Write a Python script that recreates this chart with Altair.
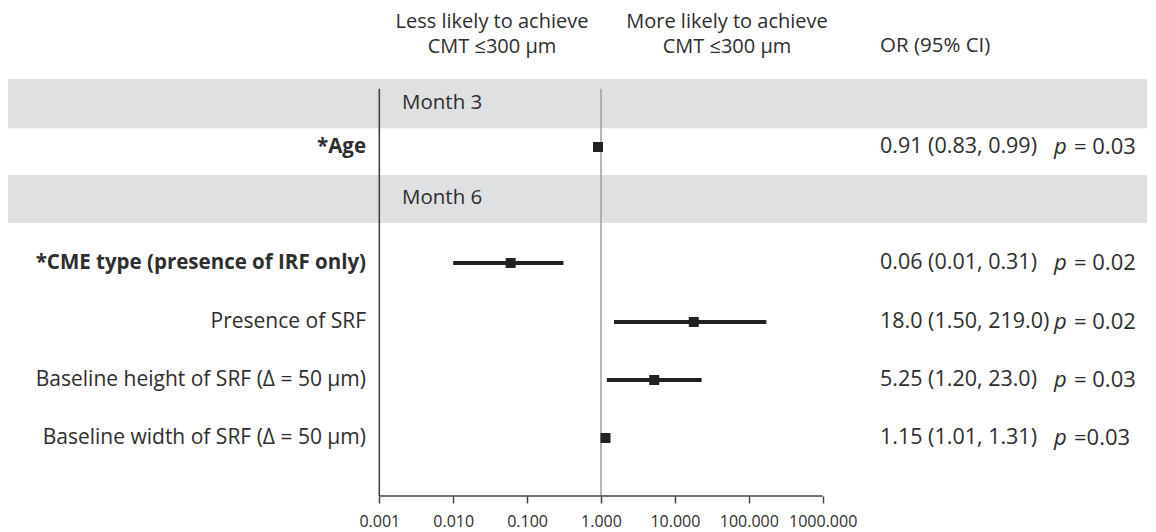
import math
import altair as alt
import pandas as pd

# ---------------- data ----------------
labels = [
    "*Age",
    "*CME type (presence of IRF only)",
    "Presence of SRF",
    "Baseline height of SRF (\u0394 = 50 \u03bcm)",
    "Baseline width of SRF (\u0394 = 50 \u03bcm)",
]
odds = [0.91, 0.06, 18.0, 5.25, 1.15]
ci_low = [0.83, 0.01, 1.50, 1.20, 1.01]
ci_high_drawn = [0.99, 0.31, 173.0, 23.0, 1.31]   # as drawn in the picture
ci_text = [
    "0.91 (0.83, 0.99)",
    "0.06 (0.01, 0.31)",
    "18.0 (1.50, 219.0)",
    "5.25 (1.20, 23.0)",
    "1.15 (1.01, 1.31)",
]
p_text = ["= 0.03", "= 0.02", "= 0.02", "= 0.03", "=0.03"]
groups = ["Month 3", "Month 6"]
tick_values = [0.001, 0.01, 0.1, 1, 10, 100, 1000]

# ---------------- layout (row slots in plot units) ----------------
row_slot = [0.974, 2.977, 3.995, 4.997, 5.998]
group_slot = [0.214, 1.863]
band_top = [-0.2, 1.457]
band_bottom = [0.65, 2.286]
Y_MIN, Y_MAX = -0.2, 7.0
LINE_TOP = -0.03

W, H = 1139, 417
DEC = 73.9             # px per decade
X0 = 371.3             # px position of 0.001
lmin = -3 - X0 / DEC
lmax = lmin + W / DEC

FONT = "Open Sans"
TXT = "#2e2e2e"
FS = 20.5

rows = pd.DataFrame({
    "label": labels, "or": odds, "lo": ci_low, "hi": ci_high_drawn,
    "ci": ci_text, "p": p_text, "row": row_slot,
})
grp = pd.DataFrame({"group": groups, "row": group_slot,
                    "top": band_top, "bottom": band_bottom})

xs = alt.Scale(type="log", domain=[10 ** lmin, 10 ** lmax], nice=False)
ys = alt.Scale(domain=[Y_MIN, Y_MAX], reverse=True, nice=False, zero=False)

xaxis = alt.Axis(values=tick_values, format=".3f", title=None, grid=False,
                 domain=False, tickColor="#444", tickSize=7, tickWidth=1.5,
                 labelFont=FONT, labelFontSize=16, labelColor=TXT,
                 labelPadding=10, labelFlush=False, labelOverlap=False)

base = alt.Chart(rows)
gbase = alt.Chart(grp)

bands = gbase.mark_rect(color="#dfe0e2").encode(
    x=alt.value(0), x2=alt.value(W),
    y=alt.Y("top:Q", scale=ys, axis=None), y2="bottom:Q",
)

left_rule = alt.Chart(pd.DataFrame({"v": [0.001]})).mark_rule(
    color="#444", strokeWidth=1.6).encode(
    x=alt.X("v:Q", scale=xs, axis=xaxis),
    y=alt.datum(LINE_TOP, scale=ys), y2=alt.datum(Y_MAX),
)
ref_rule = alt.Chart(pd.DataFrame({"v": [1.0]})).mark_rule(
    color="#a3a3a3", strokeWidth=1.6).encode(
    x=alt.X("v:Q", scale=xs),
    y=alt.datum(LINE_TOP, scale=ys), y2=alt.datum(Y_MAX),
)
axis_line = alt.Chart(pd.DataFrame({"a": [tick_values[0]], "b": [tick_values[-1]]})).mark_rule(
    color="#444", strokeWidth=1.6).encode(
    x=alt.X("a:Q", scale=xs), x2="b:Q",
    y=alt.datum(Y_MAX, scale=ys),
)

ci = base.mark_rule(color="#222", strokeWidth=4).encode(
    x=alt.X("lo:Q", scale=xs), x2="hi:Q",
    y=alt.Y("row:Q", scale=ys),
)
pts = base.mark_square(color="#222", opacity=1, size=100).encode(
    x=alt.X("or:Q", scale=xs),
    y=alt.Y("row:Q", scale=ys),
)

lab_bold = base.transform_filter("indexof(datum.label, '*') == 0").mark_text(
    align="right", baseline="middle", font=FONT, fontSize=FS,
    fontWeight="bold", color=TXT).encode(
    x=alt.value(358), y=alt.Y("row:Q", scale=ys), text="label:N")
lab_norm = base.transform_filter("indexof(datum.label, '*') != 0").mark_text(
    align="right", baseline="middle", font=FONT, fontSize=21,
    color=TXT).encode(
    x=alt.value(358), y=alt.Y("row:Q", scale=ys), text="label:N")

grp_text = gbase.mark_text(align="left", baseline="middle", font=FONT,
                           fontSize=FS, color=TXT).encode(
    x=alt.value(394), y=alt.Y("row:Q", scale=ys), text="group:N")

ci_txt = base.mark_text(align="left", baseline="middle", font=FONT,
                        fontSize=21.5, color=TXT).encode(
    x=alt.value(872), y=alt.Y("row:Q", scale=ys), text="ci:N")
p_it = base.mark_text(align="left", baseline="middle", font=FONT,
                      fontSize=22, fontStyle="italic", color=TXT, text="p").encode(
    x=alt.value(1046), y=alt.Y("row:Q", scale=ys))
p_val = base.mark_text(align="left", baseline="middle", font=FONT,
                       fontSize=22, color=TXT).encode(
    x=alt.value(1066), y=alt.Y("row:Q", scale=ys), text="p:N")

hdr = alt.Chart(pd.DataFrame({
    "t": ["Less likely to achieve\nCMT \u2264300 \u03bcm",
          "More likely to achieve\nCMT \u2264300 \u03bcm"],
    "x": [484, 719],
})).mark_text(align="center", baseline="middle", font=FONT, fontSize=20,
              color=TXT, lineBreak="\n", lineHeight=25).encode(
    x=alt.X("x:Q", scale=None), y=alt.value(-57), text="t:N")
hdr_or = alt.Chart(pd.DataFrame({"t": ["OR (95% CI)"]})).mark_text(
    align="left", baseline="middle", font=FONT, fontSize=20.5, color=TXT).encode(
    x=alt.value(872), y=alt.value(-33), text="t:N")

chart = alt.layer(
    bands, left_rule, ref_rule, axis_line, ci, pts,
    lab_bold, lab_norm, grp_text, ci_txt, p_it, p_val, hdr, hdr_or,
).resolve_scale(x="shared", y="shared").properties(
    width=W, height=H,
    autosize=alt.AutoSizeParams(type="none"),
    padding={"left": 0, "top": 71, "right": 1, "bottom": 40},
).configure_view(stroke=None)

chart.save("out.html", embed_options={"renderer": "svg", "actions": False})
